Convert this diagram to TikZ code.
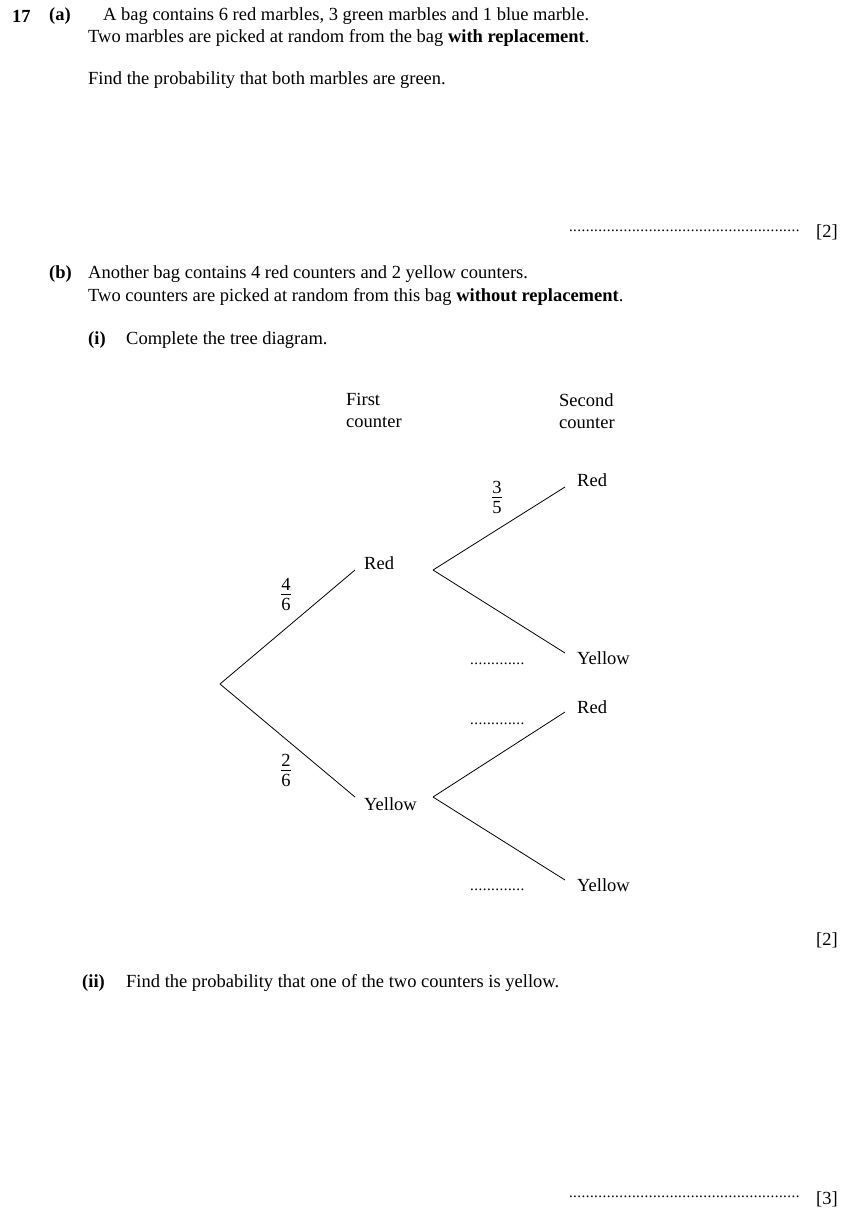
\documentclass[tikz,border=0pt]{standalone}
\usepackage{fontspec}
\setmainfont{Liberation Serif}
\newcommand{\vfr}[2]{\begin{tabular}{@{}c@{}}#1\\[-3pt]\hline\rule{0pt}{13pt}#2\end{tabular}}
\newcommand{\mydots}[1]{\makebox[#1]{\leaders\hbox to 4.2pt{\hss.\hss}\hfill}}
\begin{document}
\begin{tikzpicture}[x=1pt,y=-1pt,
  txt/.style={anchor=west,inner sep=0pt,font=\fontsize{18.5}{22}\selectfont},
  lab/.style={inner sep=0pt,font=\fontsize{18.5}{22}\selectfont},
  dts/.style={inner sep=0pt,font=\fontsize{15}{17}\selectfont},
  br/.style={line width=0.8pt}]
\useasboundingbox (0,0) rectangle (853,1211);
\node[txt] (q17) at (12,16) {\textbf{17}};
\node[txt] (qa) at (49,16) {\textbf{(a)}};
\node[txt] (a1) at (103,16) {A bag contains 6 red marbles, 3 green marbles and 1 blue marble.};
\node[txt] (a2) at (88,38) {Two marbles are picked at random from the bag \textbf{with replacement}.};
\node[txt] (a3) at (88,80) {Find the probability that both marbles are green.};
\node[dts,anchor=east] (ans1) at (803,231) {\mydots{234pt}};
\node[txt] (m1) at (816,232) {[2]};
\node[txt] (qb) at (49,274) {\textbf{(b)}};
\node[txt] (b1) at (88,274) {Another bag contains 4 red counters and 2 yellow counters.};
\node[txt] (b2) at (88,297) {Two counters are picked at random from this bag \textbf{without replacement}.};
\node[txt] (bi) at (88,340) {\textbf{(i)}};
\node[txt] (bi1) at (126,340) {Complete the tree diagram.};
\node[lab,align=left,anchor=north west] (h1) at (346,393) {First\\counter};
\node[lab,align=left,anchor=north west] (h2) at (559,393) {Second\\counter};
\coordinate (root) at (220,684);
\coordinate (r1) at (355,570);
\coordinate (y1) at (355,797);
\coordinate (r1s) at (433,570);
\coordinate (y1s) at (433,797);
\coordinate (rr) at (565,487);
\coordinate (ry) at (565,653);
\coordinate (yr) at (565,712);
\coordinate (yy) at (565,880);
\draw[br] (root) -- (r1) (root) -- (y1) (r1s) -- (rr) (r1s) -- (ry) (y1s) -- (yr) (y1s) -- (yy);
\node[txt] (tR) at (364,563) {Red};
\node[txt] (tY) at (364,804) {Yellow};
\node[txt] (tRR) at (577,480) {Red};
\node[txt] (tRY) at (577,658) {Yellow};
\node[txt] (tYR) at (577,707) {Red};
\node[txt] (tYY) at (577,885) {Yellow};
\node[lab] (f1) at (286,596) {\vfr{4}{6}};
\node[lab] (f2) at (286,772) {\vfr{2}{6}};
\node[lab] (f3) at (497,499) {\vfr{3}{5}};
\node[dts] (d1) at (498,664) {\mydots{56pt}};
\node[dts] (d2) at (498,724) {\mydots{56pt}};
\node[dts] (d3) at (498,890) {\mydots{56pt}};
\node[txt] (m2) at (816,940) {[2]};
\node[txt] (bii) at (82,983) {\textbf{(ii)}};
\node[txt] (bii1) at (126,983) {Find the probability that one of the two counters is yellow.};
\node[dts,anchor=east] (ans2) at (803,1197) {\mydots{234pt}};
\node[txt] (m3) at (816,1199) {[3]};
\end{tikzpicture}
\end{document}
